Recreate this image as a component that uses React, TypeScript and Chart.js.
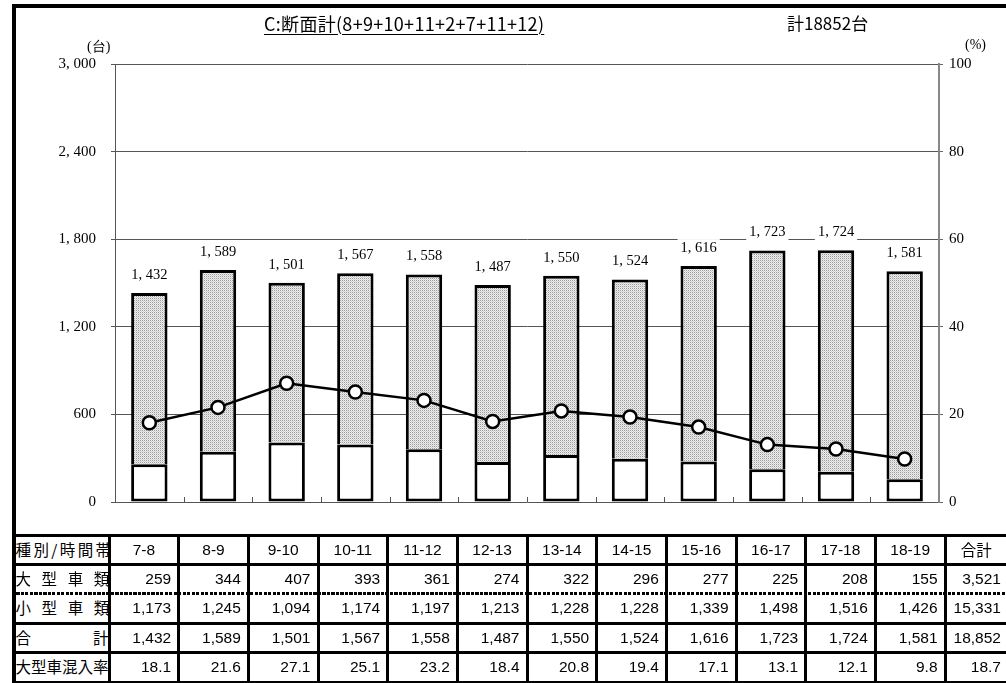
import React, { useEffect, useRef } from 'react';
import { Chart, registerables } from 'chart.js';

Chart.register(...registerables);

const titleText = 'C:断面計(8+9+10+11+2+7+11+12)';
const totalText = '計18852台';
const categories = ['7-8', '8-9', '9-10', '10-11', '11-12', '12-13', '13-14', '14-15', '15-16', '16-17', '17-18', '18-19'];
const largeVehicles = [259, 344, 407, 393, 361, 274, 322, 296, 277, 225, 208, 155];
const smallVehicles = [1173, 1245, 1094, 1174, 1197, 1213, 1228, 1228, 1339, 1498, 1516, 1426];
const totals = [1432, 1589, 1501, 1567, 1558, 1487, 1550, 1524, 1616, 1723, 1724, 1581];
const largeRatio = [18.1, 21.6, 27.1, 25.1, 23.2, 18.4, 20.8, 19.4, 17.1, 13.1, 12.1, 9.8];
const sumLarge = 3521;
const sumSmall = 15331;
const sumTotal = 18852;
const sumRatio = 18.7;
const headerLabel = '種別/時間帯';
const sumLabel = '合計';
const rowLabels = ['大型車類', '小型車類', '合計', '大型車混入率'];
const leftAxisUnit = '(台)';
const rightAxisUnit = '(%)';

const fmt = (n: number) => n.toLocaleString('en-US');
const fmtAxis = (n: number) => fmt(n).replace(',', ', ');

const SERIF = '"Liberation Serif", "DejaVu Serif", serif';
const SANS = '"Liberation Sans", "Noto Sans CJK JP", sans-serif';
const JP = '"Noto Sans CJK JP", sans-serif';

function makePattern(): CanvasPattern | string {
  const c = document.createElement('canvas');
  c.width = 2;
  c.height = 2;
  const g = c.getContext('2d');
  if (!g) return '#d4d4d4';
  g.fillStyle = '#eeeeee';
  g.fillRect(0, 0, 2, 2);
  g.fillStyle = '#9a9a9a';
  g.fillRect(0, 0, 1, 1);
  g.fillStyle = '#d0d0d0';
  g.fillRect(1, 1, 1, 1);
  const ctx = document.createElement('canvas').getContext('2d');
  const p = ctx ? ctx.createPattern(c, 'repeat') : null;
  return p || '#d4d4d4';
}

const labelPlugin = {
  id: 'totalsLabels',
  beforeDatasetsDraw(chart: any) {
    const { ctx, chartArea, scales } = chart;
    const xs = scales.x;
    const n = categories.length;
    const w = (chartArea.right - chartArea.left) / n;
    ctx.save();
    ctx.strokeStyle = '#555';
    ctx.lineWidth = 1;
    for (let k = 1; k < n; k++) {
      const x = Math.round(xs.left + k * w) + 0.5;
      ctx.beginPath();
      ctx.moveTo(x, chartArea.bottom);
      ctx.lineTo(x, chartArea.bottom - 5);
      ctx.stroke();
    }
    ctx.restore();
  },
  afterDatasetsDraw(chart: any) {
    const { ctx, scales } = chart;
    const meta = chart.getDatasetMeta(1);
    ctx.save();
    ctx.font = `14.5px ${SERIF}`;
    ctx.textAlign = 'center';
    ctx.textBaseline = 'middle';
    totals.forEach((t, i) => {
      const x = meta.data[i].x;
      const y = scales.y.getPixelForValue(t) - 18;
      const txt = fmtAxis(t);
      const tw = ctx.measureText(txt).width;
      ctx.fillStyle = '#fff';
      ctx.fillRect(x - tw / 2 - 3, y - 9, tw + 6, 18);
      ctx.fillStyle = '#000';
      ctx.fillText(txt, x, y);
    });
    ctx.restore();
  },
};

function ChartCanvas() {
  const ref = useRef<HTMLCanvasElement | null>(null);
  useEffect(() => {
    if (!ref.current) return;
    const pattern = makePattern();
    const chart = new Chart(ref.current, {
      type: 'bar',
      data: {
        labels: categories,
        datasets: [
          {
            type: 'line',
            label: '大型車混入率',
            data: largeRatio,
            yAxisID: 'y1',
            borderColor: '#000',
            borderWidth: 2.5,
            pointRadius: 6.5,
            pointBackgroundColor: '#fff',
            pointBorderColor: '#000',
            pointBorderWidth: 2.5,
            order: 0,
            tension: 0,
          } as any,
          {
            type: 'bar',
            label: '大型車類',
            data: largeVehicles,
            yAxisID: 'y',
            backgroundColor: '#fff',
            borderColor: '#000',
            borderWidth: 3,
            borderSkipped: false,
            stack: 's',
            order: 1,
          },
          {
            type: 'bar',
            label: '小型車類',
            data: smallVehicles,
            yAxisID: 'y',
            backgroundColor: pattern as any,
            borderColor: '#000',
            borderWidth: 3,
            borderSkipped: 'start',
            stack: 's',
            order: 1,
          },
        ],
      },
      options: {
        responsive: false,
        maintainAspectRatio: false,
        animation: false,
        datasets: { bar: { barPercentage: 0.53, categoryPercentage: 1 } },
        layout: { padding: { top: 64, left: 0, right: 0, bottom: 0 } },
        plugins: {
          legend: { display: false },
          tooltip: { enabled: false },
          title: { display: false },
        },
        scales: {
          x: {
            stacked: true,
            grid: { display: false },
            ticks: { display: false },
            border: { display: false },
            afterFit: (s: any) => { s.height = 33; },
          },
          y: {
            stacked: true,
            position: 'left',
            min: 0,
            max: 3000,
            ticks: {
              stepSize: 600,
              callback: (v: any) => fmtAxis(Number(v)),
              font: { family: SERIF, size: 15 },
              color: '#000',
              padding: 15,
            },
            grid: { color: '#555', lineWidth: 1, tickLength: 4 },
            border: { color: '#555', width: 1 },
            afterFit: (s: any) => { s.width = 115; },
          },
          y1: {
            position: 'right',
            min: 0,
            max: 100,
            ticks: {
              stepSize: 20,
              font: { family: SERIF, size: 15 },
              color: '#000',
              padding: 6,
            },
            grid: { drawOnChartArea: false, color: '#666', tickLength: 4 },
            border: { color: '#888', width: 2 },
            afterFit: (s: any) => { s.width = 67; },
          },
        },
      } as any,
      plugins: [labelPlugin],
    });
    return () => chart.destroy();
  }, []);
  return (
    <canvas
      ref={ref}
      width={1006}
      height={535}
      style={{ position: 'absolute', left: 0, top: 0, width: 1006, height: 535 }}
    />
  );
}

const V = Array.from({ length: 13 }, (_, i) => 109 + i * 69.67);
const H = [535, 564, 593, 623, 652, 682];

function Table() {
  const lines: React.ReactNode[] = [];
  H.forEach((y, i) => {
    const dotted = i === 2;
    lines.push(
      <div
        key={'h' + i}
        style={{
          position: 'absolute',
          left: 12,
          top: y - 1.5,
          width: 994,
          height: 3,
          background: dotted
            ? 'repeating-linear-gradient(to right, #000 0px, #000 3px, transparent 3px, transparent 4.5px)'
            : '#000',
        }}
      />
    );
  });
  V.forEach((x, i) => {
    lines.push(
      <div key={'v' + i} style={{ position: 'absolute', left: x - 1.5, top: 534, width: 3, height: 149, background: '#000' }} />
    );
  });

  const cells: React.ReactNode[] = [];
  const rowValues: (string)[][] = [
    [...categories, sumLabel],
    [...largeVehicles.map(fmt), fmt(sumLarge)],
    [...smallVehicles.map(fmt), fmt(sumSmall)],
    [...totals.map(fmt), fmt(sumTotal)],
    [...largeRatio.map((v) => v.toFixed(1)), sumRatio.toFixed(1)],
  ];
  const firstCol = [headerLabel, ...rowLabels];
  const spacing = [2.4, 10.6, 10.6, 62, 0];
  for (let r = 0; r < 5; r++) {
    const top = H[r] + 1.5;
    const height = H[r + 1] - H[r] - 3;
    cells.push(
      <div
        key={'f' + r}
        style={{
          position: 'absolute', left: 15.5, top, width: 92, height,
          display: 'flex', alignItems: 'center', whiteSpace: 'nowrap', overflow: 'hidden',
          fontFamily: JP, fontSize: 15.5, letterSpacing: spacing[r], color: '#000', lineHeight: 1,
        }}
      >
        {firstCol[r]}
      </div>
    );
    for (let c = 0; c < 13; c++) {
      const left = V[c] + 1.5;
      const right = c < 12 ? V[c + 1] - 1.5 : 1006;
      const isHeader = r === 0;
      const txt = rowValues[r][c];
      const isJp = /[^\x00-\x7f]/.test(txt);
      cells.push(
        <div
          key={'c' + r + '_' + c}
          style={{
            position: 'absolute', left, top, width: right - left, height,
            display: 'flex', alignItems: 'center',
            justifyContent: isHeader ? 'center' : 'flex-end',
            paddingRight: isHeader ? 0 : (c < 12 ? 6 : 5),
            boxSizing: 'border-box',
            fontFamily: isJp ? JP : SANS, fontSize: 15.5, color: '#000', lineHeight: 1,
            whiteSpace: 'nowrap',
          }}
        >
          {txt}
        </div>
      );
    }
  }
  return (
    <>
      {lines}
      {cells}
    </>
  );
}

export default function App() {
  return (
    <div style={{ position: 'absolute', left: 0, top: 0, width: 1006, height: 683, background: '#fff', overflow: 'hidden' }}>
      <ChartCanvas />
      <div style={{ position: 'absolute', left: 12, top: 4, width: 994, height: 4, background: '#000' }} />
      <div style={{ position: 'absolute', left: 12, top: 4, width: 3.5, height: 679, background: '#000' }} />
      <div
        style={{
          position: 'absolute', left: 264, top: 12, whiteSpace: 'nowrap',
          fontFamily: JP, fontSize: 18, letterSpacing: 0.3, lineHeight: '22px', color: '#000',
          textDecoration: 'underline', textUnderlineOffset: 3,
        }}
      >
        {titleText}
      </div>
      <div
        style={{
          position: 'absolute', left: 787, top: 12, whiteSpace: 'nowrap',
          fontFamily: JP, fontSize: 17, lineHeight: '22px', color: '#000',
        }}
      >
        {totalText}
      </div>
      <div style={{ position: 'absolute', left: 87, top: 38, fontFamily: SERIF, fontSize: 14, lineHeight: '18px', whiteSpace: 'nowrap' }}>
        {leftAxisUnit}
      </div>
      <div style={{ position: 'absolute', left: 965, top: 36, fontFamily: SERIF, fontSize: 14, lineHeight: '18px', whiteSpace: 'nowrap' }}>
        {rightAxisUnit}
      </div>
      <Table />
    </div>
  );
}
